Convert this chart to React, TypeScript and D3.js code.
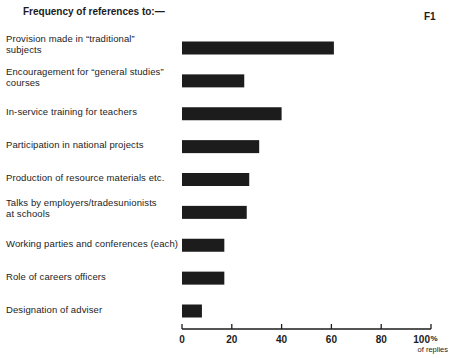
import React from "react";
import * as d3 from "d3";

const categories: string[][] = [
  ["Provision made in \u201Ctraditional\u201D", "subjects"],
  ["Encouragement for \u201Cgeneral studies\u201D", "courses"],
  ["In-service training for teachers"],
  ["Participation in national projects"],
  ["Production of resource materials etc."],
  ["Talks by employers/tradesunionists", "at schools"],
  ["Working parties and conferences (each)"],
  ["Role of careers officers"],
  ["Designation of adviser"],
];
const values: number[] = [61, 25, 40, 31, 27, 26, 17, 17, 8];
const ticks: number[] = [0, 20, 40, 60, 80, 100];

const W = 450;
const H = 358;
const font = "'Liberation Sans', Arial, sans-serif";

export default function App() {
  const x = d3.scaleLinear().domain([0, 100]).range([182, 431]);
  const y = d3
    .scalePoint<number>()
    .domain(values.map((_, i) => i))
    .range([48, 311]);
  const barH = 13;
  const axisY = 329;
  const ink = "#1c1c1c";

  return (
    <svg
      width={W}
      height={H}
      style={{ position: "absolute", left: 0, top: 0, background: "#fff" }}
      fontFamily={font}
    >
      <text x={23} y={15} fontSize={10} fontWeight="bold" fill={ink}>
        Frequency of references to:—
      </text>
      <text x={424} y={20} fontSize={10} fontWeight="bold" fill={ink}>
        F1
      </text>

      {values.map((v, i) => {
        const cy = y(i) as number;
        const lines = categories[i];
        const startY = lines.length === 1 ? cy + 1.5 : cy - 6;
        return (
          <g key={i}>
            <rect
              x={x(0)}
              y={cy - barH / 2}
              width={x(v) - x(0)}
              height={barH}
              fill={ink}
            />
            <text fontSize={9.5} fill={ink} letterSpacing={0.1}>
              {lines.map((l, j) => (
                <tspan key={j} x={6} y={startY + j * 11}>
                  {l}
                </tspan>
              ))}
            </text>
          </g>
        );
      })}

      <line x1={x(0)} x2={x(100)} y1={axisY} y2={axisY} stroke={ink} strokeWidth={1.3} />
      {ticks.map((t) => (
        <g key={t}>
          <line x1={x(t)} x2={x(t)} y1={axisY} y2={axisY - 5} stroke={ink} strokeWidth={1.3} />
          <text
            x={t === 100 ? x(t) - 1 : x(t)}
            y={axisY + 14}
            fontSize={10}
            fontWeight="bold"
            textAnchor={t === 100 ? "end" : "middle"}
            fill={ink}
          >
            {t}
          </text>
        </g>
      ))}
      <text x={x(100) - 0.5} y={axisY + 12} fontSize={8} fontWeight="bold" fill={ink}>
        %
      </text>
      <text x={448} y={axisY + 23} fontSize={7.5} textAnchor="end" fill={ink}>
        of replies
      </text>
    </svg>
  );
}
